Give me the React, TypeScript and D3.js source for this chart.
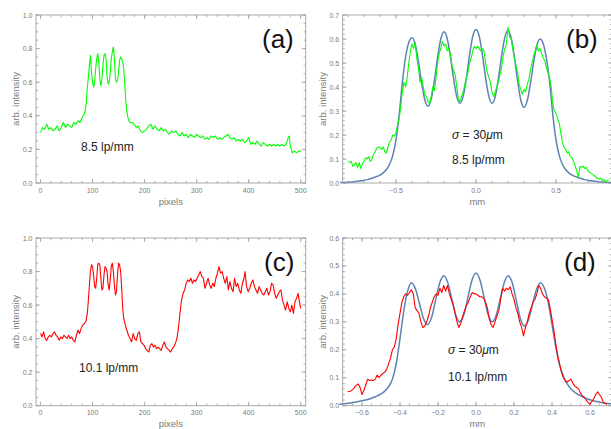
import React from 'react';
import * as d3 from 'd3';

type Pt = [number, number];

// (a) measured profile across the 8.5 lp/mm group  [pixel, intensity]
const profileA: Pt[] = [
  [0, 0.30], [4, 0.33], [8, 0.32], [12, 0.35], [16, 0.32], [20, 0.33], [24, 0.31], [28, 0.32], [32, 0.34], [36, 0.31],
  [40, 0.33], [44, 0.36], [48, 0.33], [52, 0.35], [56, 0.34], [60, 0.33], [64, 0.36], [68, 0.35], [72, 0.37], [76, 0.36],
  [80, 0.39], [84, 0.41], [86, 0.43], [88, 0.48], [90, 0.57], [92, 0.63], [94, 0.70], [96, 0.76], [98, 0.66], [100, 0.60],
  [102, 0.57], [104, 0.60], [106, 0.68], [108, 0.74], [110, 0.77], [112, 0.72], [114, 0.62], [116, 0.58], [118, 0.62], [120, 0.70],
  [122, 0.76], [124, 0.77], [126, 0.74], [128, 0.63], [130, 0.59], [132, 0.60], [134, 0.66], [136, 0.74], [138, 0.78], [140, 0.81],
  [142, 0.74], [144, 0.62], [146, 0.60], [148, 0.61], [150, 0.66], [152, 0.73], [154, 0.75], [156, 0.74], [158, 0.72], [160, 0.68],
  [162, 0.58], [164, 0.48], [166, 0.42], [168, 0.39], [170, 0.37], [172, 0.36], [176, 0.36], [180, 0.35], [184, 0.33], [188, 0.34],
  [192, 0.31], [196, 0.30], [200, 0.31], [204, 0.32], [208, 0.34], [212, 0.35], [216, 0.32], [220, 0.34], [224, 0.32], [228, 0.31],
  [232, 0.33], [236, 0.31], [240, 0.32], [244, 0.30], [248, 0.29], [252, 0.31], [256, 0.30], [260, 0.31], [264, 0.29], [268, 0.28],
  [272, 0.30], [276, 0.28], [280, 0.29], [284, 0.27], [288, 0.29], [292, 0.28], [296, 0.27], [300, 0.29], [304, 0.28], [308, 0.27],
  [312, 0.28], [316, 0.26], [320, 0.27], [324, 0.26], [328, 0.28], [332, 0.27], [336, 0.28], [340, 0.26], [344, 0.27], [348, 0.26],
  [352, 0.27], [356, 0.28], [360, 0.29], [364, 0.27], [368, 0.26], [372, 0.27], [376, 0.25], [380, 0.26], [384, 0.25], [388, 0.26],
  [392, 0.24], [396, 0.25], [400, 0.27], [404, 0.23], [408, 0.24], [412, 0.23], [416, 0.25], [420, 0.23], [424, 0.22], [428, 0.24],
  [432, 0.23], [436, 0.22], [440, 0.23], [444, 0.22], [448, 0.23], [452, 0.22], [456, 0.23], [460, 0.22], [464, 0.23], [468, 0.22],
  [472, 0.23], [476, 0.27], [478, 0.28], [480, 0.22], [484, 0.18], [488, 0.19], [492, 0.18], [496, 0.19], [500, 0.19],
];

// (b) measured profile [mm, intensity]
const measuredB: Pt[] = [
  [-0.80, 0.09], [-0.79, 0.085], [-0.78, 0.09], [-0.77, 0.07], [-0.76, 0.075], [-0.75, 0.085], [-0.74, 0.065], [-0.73, 0.085],
  [-0.72, 0.06], [-0.71, 0.08], [-0.70, 0.09], [-0.69, 0.105], [-0.68, 0.10], [-0.67, 0.11], [-0.66, 0.09], [-0.65, 0.10],
  [-0.64, 0.12], [-0.63, 0.13], [-0.62, 0.145], [-0.61, 0.15], [-0.60, 0.15], [-0.59, 0.14], [-0.58, 0.15], [-0.57, 0.13],
  [-0.56, 0.125], [-0.55, 0.15], [-0.54, 0.17], [-0.53, 0.18], [-0.52, 0.20], [-0.51, 0.195], [-0.50, 0.21], [-0.49, 0.24],
  [-0.48, 0.27], [-0.47, 0.32], [-0.46, 0.38], [-0.45, 0.42], [-0.44, 0.40], [-0.43, 0.44], [-0.42, 0.50], [-0.41, 0.55],
  [-0.40, 0.58], [-0.39, 0.56], [-0.38, 0.585], [-0.37, 0.52], [-0.36, 0.48], [-0.35, 0.42], [-0.34, 0.44], [-0.33, 0.40],
  [-0.32, 0.37], [-0.31, 0.36], [-0.30, 0.34], [-0.29, 0.33], [-0.28, 0.36], [-0.27, 0.40], [-0.26, 0.385], [-0.25, 0.44],
  [-0.24, 0.50], [-0.23, 0.54], [-0.22, 0.56], [-0.21, 0.59], [-0.20, 0.57], [-0.19, 0.58], [-0.18, 0.55], [-0.17, 0.56],
  [-0.16, 0.54], [-0.15, 0.49], [-0.14, 0.47], [-0.13, 0.45], [-0.12, 0.40], [-0.11, 0.35], [-0.10, 0.34], [-0.09, 0.36],
  [-0.08, 0.38], [-0.07, 0.41], [-0.06, 0.44], [-0.05, 0.46], [-0.04, 0.50], [-0.03, 0.52], [-0.02, 0.55], [-0.01, 0.57],
  [0.00, 0.56], [0.01, 0.57], [0.02, 0.56], [0.03, 0.55], [0.04, 0.56], [0.05, 0.55], [0.06, 0.50], [0.07, 0.46],
  [0.08, 0.44], [0.09, 0.42], [0.10, 0.38], [0.11, 0.36], [0.12, 0.38], [0.13, 0.40], [0.14, 0.42], [0.15, 0.45],
  [0.16, 0.48], [0.17, 0.53], [0.18, 0.56], [0.19, 0.58], [0.20, 0.65], [0.21, 0.61], [0.22, 0.60], [0.23, 0.56],
  [0.24, 0.52], [0.25, 0.49], [0.26, 0.46], [0.27, 0.41], [0.28, 0.39], [0.29, 0.37], [0.30, 0.39], [0.31, 0.38],
  [0.32, 0.41], [0.33, 0.43], [0.34, 0.47], [0.35, 0.50], [0.36, 0.53], [0.37, 0.55], [0.38, 0.575], [0.39, 0.55],
  [0.40, 0.56], [0.41, 0.54], [0.42, 0.52], [0.43, 0.51], [0.44, 0.48], [0.45, 0.46], [0.46, 0.44], [0.47, 0.40],
  [0.48, 0.33], [0.49, 0.30], [0.50, 0.29], [0.51, 0.27], [0.52, 0.25], [0.53, 0.21], [0.54, 0.17], [0.55, 0.15],
  [0.56, 0.14], [0.57, 0.125], [0.58, 0.13], [0.59, 0.11], [0.60, 0.105], [0.61, 0.09], [0.62, 0.07], [0.63, 0.05],
  [0.64, 0.025], [0.65, 0.07], [0.66, 0.065], [0.67, 0.07], [0.68, 0.06], [0.69, 0.065], [0.70, 0.05], [0.71, 0.045],
  [0.72, 0.04], [0.73, 0.035], [0.74, 0.03], [0.75, 0.025], [0.76, 0.02], [0.77, 0.015], [0.78, 0.02], [0.79, 0.01],
  [0.80, 0.015], [0.81, 0.005], [0.82, 0.01], [0.83, 0.015],
];

// (b) model, sigma = 30 um
const modelB: Pt[] = [
  [-0.85, 0.002], [-0.80, 0.003], [-0.76, 0.005], [-0.72, 0.009], [-0.68, 0.014], [-0.64, 0.022], [-0.60, 0.033],
  [-0.58, 0.042], [-0.56, 0.056], [-0.54, 0.078], [-0.52, 0.115], [-0.50, 0.18], [-0.48, 0.285], [-0.46, 0.42],
  [-0.44, 0.525], [-0.42, 0.585], [-0.40, 0.605], [-0.38, 0.578], [-0.36, 0.507], [-0.34, 0.418], [-0.32, 0.347],
  [-0.30, 0.320], [-0.28, 0.350], [-0.26, 0.427], [-0.24, 0.523], [-0.22, 0.600], [-0.20, 0.630], [-0.18, 0.602],
  [-0.16, 0.527], [-0.14, 0.435], [-0.12, 0.360], [-0.10, 0.332], [-0.08, 0.362], [-0.06, 0.438], [-0.04, 0.535],
  [-0.02, 0.612], [0.00, 0.640], [0.02, 0.612], [0.04, 0.535], [0.06, 0.438], [0.08, 0.362], [0.10, 0.332],
  [0.12, 0.359], [0.14, 0.435], [0.16, 0.530], [0.18, 0.606], [0.20, 0.635], [0.22, 0.604], [0.24, 0.524],
  [0.26, 0.426], [0.28, 0.346], [0.30, 0.315], [0.32, 0.342], [0.34, 0.413], [0.36, 0.502], [0.38, 0.573],
  [0.40, 0.600], [0.42, 0.58], [0.44, 0.52], [0.46, 0.42], [0.48, 0.285], [0.50, 0.18], [0.52, 0.115],
  [0.54, 0.078], [0.56, 0.056], [0.58, 0.042], [0.60, 0.033], [0.64, 0.022], [0.68, 0.014], [0.72, 0.009],
  [0.76, 0.005], [0.80, 0.003], [0.85, 0.002],
];

// (c) measured profile across the 10.1 lp/mm group  [pixel, intensity]
const profileC: Pt[] = [
  [0, 0.43], [3, 0.41], [6, 0.44], [9, 0.40], [12, 0.39], [15, 0.41], [18, 0.42], [21, 0.41], [24, 0.43], [27, 0.44],
  [30, 0.42], [33, 0.41], [36, 0.39], [39, 0.41], [42, 0.40], [45, 0.42], [48, 0.41], [51, 0.40], [54, 0.42], [57, 0.40],
  [60, 0.41], [63, 0.39], [66, 0.38], [69, 0.42], [72, 0.45], [75, 0.43], [78, 0.46], [81, 0.48], [84, 0.49], [87, 0.50],
  [90, 0.55], [92, 0.63], [94, 0.72], [96, 0.80], [98, 0.84], [100, 0.83], [102, 0.78], [104, 0.71], [106, 0.70], [108, 0.76],
  [110, 0.84], [112, 0.85], [114, 0.84], [116, 0.76], [118, 0.69], [120, 0.70], [122, 0.78], [124, 0.83], [126, 0.82], [128, 0.80],
  [130, 0.72], [132, 0.69], [134, 0.75], [136, 0.83], [138, 0.85], [140, 0.80], [142, 0.72], [144, 0.66], [146, 0.68], [148, 0.78],
  [150, 0.85], [152, 0.84], [154, 0.80], [156, 0.70], [158, 0.58], [160, 0.52], [163, 0.48], [166, 0.45], [169, 0.42], [172, 0.40],
  [175, 0.38], [178, 0.43], [181, 0.40], [184, 0.39], [187, 0.43], [190, 0.44], [193, 0.38], [196, 0.37], [199, 0.36], [202, 0.34],
  [205, 0.33], [208, 0.32], [211, 0.36], [214, 0.37], [217, 0.35], [220, 0.36], [223, 0.34], [226, 0.35], [229, 0.34], [232, 0.33],
  [235, 0.36], [238, 0.38], [241, 0.35], [244, 0.34], [247, 0.33], [250, 0.32], [253, 0.34], [256, 0.35], [259, 0.37], [262, 0.40],
  [265, 0.46], [268, 0.55], [271, 0.63], [274, 0.67], [277, 0.69], [280, 0.73], [283, 0.75], [286, 0.74], [289, 0.76], [292, 0.73],
  [295, 0.75], [298, 0.74], [301, 0.76], [304, 0.78], [307, 0.80], [310, 0.77], [313, 0.76], [316, 0.70], [319, 0.73], [322, 0.76],
  [325, 0.72], [328, 0.70], [331, 0.73], [334, 0.71], [337, 0.76], [340, 0.79], [343, 0.83], [346, 0.79], [349, 0.80], [352, 0.76],
  [355, 0.73], [358, 0.77], [361, 0.69], [364, 0.74], [367, 0.70], [370, 0.68], [373, 0.76], [376, 0.71], [379, 0.73], [382, 0.69],
  [385, 0.67], [388, 0.73], [391, 0.76], [393, 0.80], [396, 0.71], [399, 0.68], [402, 0.70], [405, 0.73], [408, 0.75], [411, 0.71],
  [414, 0.69], [417, 0.67], [420, 0.71], [423, 0.69], [426, 0.67], [429, 0.66], [432, 0.68], [435, 0.70], [438, 0.66], [441, 0.68],
  [444, 0.73], [447, 0.72], [450, 0.67], [453, 0.64], [456, 0.66], [459, 0.68], [462, 0.69], [465, 0.63], [468, 0.60], [471, 0.57],
  [474, 0.62], [477, 0.58], [480, 0.56], [483, 0.60], [486, 0.55], [489, 0.62], [492, 0.64], [495, 0.67], [497, 0.63], [500, 0.58],
];

// (d) measured profile [mm, intensity]
const measuredD: Pt[] = [
  [-0.675, 0.05], [-0.66, 0.052], [-0.645, 0.06], [-0.635, 0.07], [-0.62, 0.078], [-0.61, 0.065], [-0.60, 0.04], [-0.59, 0.055],
  [-0.58, 0.075], [-0.57, 0.095], [-0.56, 0.09], [-0.55, 0.092], [-0.54, 0.09], [-0.53, 0.095], [-0.52, 0.11], [-0.51, 0.10],
  [-0.50, 0.11], [-0.49, 0.115], [-0.48, 0.12], [-0.47, 0.13], [-0.46, 0.15], [-0.45, 0.17], [-0.44, 0.20], [-0.43, 0.21],
  [-0.42, 0.24], [-0.41, 0.29], [-0.40, 0.33], [-0.39, 0.37], [-0.38, 0.39], [-0.37, 0.40], [-0.36, 0.395], [-0.35, 0.405],
  [-0.34, 0.415], [-0.33, 0.40], [-0.32, 0.35], [-0.31, 0.34], [-0.30, 0.33], [-0.29, 0.30], [-0.28, 0.28], [-0.27, 0.285],
  [-0.26, 0.30], [-0.25, 0.32], [-0.24, 0.35], [-0.23, 0.37], [-0.22, 0.39], [-0.21, 0.40], [-0.20, 0.395], [-0.19, 0.42],
  [-0.18, 0.405], [-0.17, 0.43], [-0.16, 0.41], [-0.15, 0.43], [-0.14, 0.40], [-0.13, 0.38], [-0.12, 0.36], [-0.11, 0.33],
  [-0.10, 0.30], [-0.09, 0.28], [-0.08, 0.295], [-0.07, 0.32], [-0.06, 0.34], [-0.05, 0.36], [-0.04, 0.37], [-0.03, 0.39],
  [-0.02, 0.405], [-0.01, 0.40], [0.00, 0.40], [0.01, 0.395], [0.02, 0.39], [0.03, 0.39], [0.04, 0.385], [0.05, 0.37],
  [0.06, 0.35], [0.07, 0.31], [0.08, 0.29], [0.09, 0.28], [0.10, 0.30], [0.11, 0.32], [0.12, 0.34], [0.13, 0.38],
  [0.14, 0.42], [0.15, 0.41], [0.16, 0.42], [0.17, 0.415], [0.18, 0.425], [0.19, 0.40], [0.20, 0.38], [0.21, 0.35],
  [0.22, 0.33], [0.23, 0.30], [0.24, 0.28], [0.25, 0.25], [0.26, 0.28], [0.27, 0.30], [0.28, 0.33], [0.29, 0.35],
  [0.30, 0.37], [0.31, 0.38], [0.32, 0.40], [0.33, 0.43], [0.34, 0.42], [0.35, 0.40], [0.36, 0.39], [0.37, 0.385],
  [0.38, 0.38], [0.39, 0.35], [0.40, 0.31], [0.41, 0.27], [0.42, 0.22], [0.43, 0.18], [0.44, 0.15], [0.45, 0.12],
  [0.46, 0.10], [0.47, 0.09], [0.48, 0.085], [0.49, 0.09], [0.50, 0.095], [0.51, 0.08], [0.52, 0.07], [0.53, 0.065],
  [0.54, 0.06], [0.55, 0.045], [0.56, 0.035], [0.57, 0.03], [0.58, 0.02], [0.59, 0.012], [0.60, 0.005], [0.61, 0.015],
  [0.62, 0.025], [0.63, 0.04], [0.64, 0.05], [0.65, 0.04], [0.66, 0.03], [0.67, 0.012], [0.68, 0.008], [0.69, 0.005],
];

// (d) model, sigma = 30 um
const modelD: Pt[] = [
  [-0.72, 0.005], [-0.64, 0.012], [-0.60, 0.018], [-0.56, 0.024], [-0.53, 0.032], [-0.50, 0.042], [-0.48, 0.052],
  [-0.46, 0.068], [-0.44, 0.095], [-0.42, 0.15], [-0.40, 0.24], [-0.38, 0.34], [-0.36, 0.41], [-0.34, 0.44],
  [-0.31875, 0.418], [-0.2975, 0.365], [-0.27625, 0.312], [-0.255, 0.29], [-0.23375, 0.316], [-0.2125, 0.3775],
  [-0.19125, 0.439], [-0.17, 0.465], [-0.14875, 0.441], [-0.1275, 0.3825], [-0.10625, 0.324], [-0.085, 0.30],
  [-0.06375, 0.326], [-0.0425, 0.3875], [-0.02125, 0.449], [0, 0.475], [0.02125, 0.449], [0.0425, 0.3875],
  [0.06375, 0.326], [0.085, 0.30], [0.10625, 0.324], [0.1275, 0.3825], [0.14875, 0.441], [0.17, 0.465],
  [0.19125, 0.439], [0.2125, 0.375], [0.23375, 0.311], [0.255, 0.285], [0.27625, 0.308], [0.2975, 0.3625],
  [0.31875, 0.417], [0.34, 0.44], [0.36, 0.42], [0.38, 0.37], [0.40, 0.29], [0.42, 0.21], [0.44, 0.145],
  [0.46, 0.105], [0.48, 0.078], [0.50, 0.06], [0.53, 0.043], [0.56, 0.032], [0.60, 0.021], [0.64, 0.014],
  [0.68, 0.009], [0.72, 0.006],
];

const ticksPixels = [0, 100, 200, 300, 400, 500];
const ticksMmB = [-0.5, 0, 0.5];
const ticksMmD = [-0.6, -0.4, -0.2, 0, 0.2, 0.4, 0.6];
const ticksInt10 = [0, 0.2, 0.4, 0.6, 0.8, 1.0];
const ticksInt07 = [0, 0.1, 0.2, 0.3, 0.4, 0.5, 0.6, 0.7];
const ticksInt06 = [0, 0.1, 0.2, 0.3, 0.4, 0.5, 0.6];

const GREEN = '#00ff00';
const RED = '#ff0000';
const BLUE = '#5e81b5';
const FRAME = '#a0a0a0';
const TICKTXT = '#7a7a7a';
const FONT = "'Liberation Sans', Arial, sans-serif";

type Series = { data: Pt[]; color: string; width: number; smooth?: boolean };
type Note = { x: number; y: number; text: React.ReactNode };

type PanelProps = {
  box: [number, number, number, number]; // left, top, right, bottom
  xDomain: [number, number];
  yDomain: [number, number];
  xTicks: number[];
  xMinor: number;
  yTicks: number[];
  yMinor: number;
  xFmt: (v: number) => string;
  xLabel: string;
  series: Series[];
  tag: string;
  tagPos: [number, number];
  notes: Note[];
};

const fmtY = (v: number) => v.toFixed(1);
const fmtMm = (v: number) => (v < 0 ? '\u2212' + Math.abs(v).toFixed(1) : v.toFixed(1));

function Panel(p: PanelProps) {
  const [l, t, r, b] = p.box;
  const x = d3.scaleLinear().domain(p.xDomain).range([l, r]);
  const y = d3.scaleLinear().domain(p.yDomain).range([b, t]);
  const minorX = d3.range(Math.ceil(p.xDomain[0] / p.xMinor), Math.floor(p.xDomain[1] / p.xMinor) + 1).map((i) => i * p.xMinor);
  const minorY = d3.range(Math.ceil(p.yDomain[0] / p.yMinor), Math.floor(p.yDomain[1] / p.yMinor + 1e-6) + 1).map((i) => i * p.yMinor);
  const major = 4;
  const minor = 2.2;
  const cx = (l + r) / 2;
  const cy = (t + b) / 2;

  return (
    <g>
      <g stroke={FRAME} strokeWidth={0.8}>
        {minorX.map((v, i) => (
          <g key={'mx' + i}>
            <line x1={x(v)} x2={x(v)} y1={b} y2={b - minor} />
            <line x1={x(v)} x2={x(v)} y1={t} y2={t + minor} />
          </g>
        ))}
        {minorY.map((v, i) => (
          <g key={'my' + i}>
            <line x1={l} x2={l + minor} y1={y(v)} y2={y(v)} />
            <line x1={r} x2={r - minor} y1={y(v)} y2={y(v)} />
          </g>
        ))}
        {p.xTicks.map((v, i) => (
          <g key={'Mx' + i}>
            <line x1={x(v)} x2={x(v)} y1={b} y2={b - major} />
            <line x1={x(v)} x2={x(v)} y1={t} y2={t + major} />
          </g>
        ))}
        {p.yTicks.map((v, i) => (
          <g key={'My' + i}>
            <line x1={l} x2={l + major} y1={y(v)} y2={y(v)} />
            <line x1={r} x2={r - major} y1={y(v)} y2={y(v)} />
          </g>
        ))}
      </g>
      <g fontFamily={FONT} fontSize={7} fill={TICKTXT}>
        {p.xTicks.map((v, i) => (
          <text key={'tx' + i} x={x(v)} y={b + 9.5} textAnchor="middle">{p.xFmt(v)}</text>
        ))}
        {p.yTicks.map((v, i) => (
          <text key={'ty' + i} x={l - 3.5} y={y(v) + 2.5} textAnchor="end">{fmtY(v)}</text>
        ))}
      </g>
      <g fontFamily={FONT} fontSize={9.5} fill={TICKTXT}>
        <text x={cx} y={b + 21.5} textAnchor="middle">{p.xLabel}</text>
        <text transform={`translate(${l - 17},${cy}) rotate(-90)`} textAnchor="middle">arb. intensity</text>
      </g>
      {p.series.map((s, i) => {
        const line = d3
          .line<Pt>()
          .x((d) => x(d[0]))
          .y((d) => y(d[1]))
          .curve(s.smooth ? d3.curveMonotoneX : d3.curveLinear);
        return (
          <path key={'s' + i} d={line(s.data) || ''} fill="none" stroke={s.color} strokeWidth={s.width} strokeLinejoin="round" />
        );
      })}
      <rect x={l} y={t} width={r - l} height={b - t} fill="none" stroke={FRAME} strokeWidth={0.9} />
      <text x={p.tagPos[0]} y={p.tagPos[1]} fontFamily={FONT} fontSize={26} fill="#111">{p.tag}</text>
      <g fontFamily={FONT} fontSize={12} fill="#222">
        {p.notes.map((n, i) => (
          <text key={'n' + i} x={n.x} y={n.y}>{n.text}</text>
        ))}
      </g>
    </g>
  );
}

const sigma = (
  <>
    <tspan fontStyle="italic">σ</tspan> = 30<tspan fontStyle="italic">μ</tspan>m
  </>
);

export default function App() {
  const xA = d3.scaleLinear().domain([0, 500]).range([40.5, 300.7]);
  const pixDomain: [number, number] = [xA.invert(36), xA.invert(305.7)];
  const mmB = d3.scaleLinear().domain([-0.5, 0.5]).range([396, 556]);
  const mmD = d3.scaleLinear().domain([0, 0.6]).range([476, 590]);

  return (
    <svg width={611} height={429} style={{ position: 'absolute', left: 0, top: 0, background: '#fff' }}>
      <Panel
        box={[36, 15, 305.7, 183]}
        xDomain={pixDomain}
        yDomain={[0, 1]}
        xTicks={ticksPixels}
        xMinor={20}
        yTicks={ticksInt10}
        yMinor={0.05}
        xFmt={(v) => String(v)}
        xLabel="pixels"
        series={[{ data: profileA, color: GREEN, width: 1.1 }]}
        tag="(a)"
        tagPos={[262, 48]}
        notes={[{ x: 81, y: 151, text: '8.5 lp/mm' }]}
      />
      <Panel
        box={[342.7, 15, 612, 183]}
        xDomain={[mmB.invert(342.7), mmB.invert(612)]}
        yDomain={[0, 0.7]}
        xTicks={ticksMmB}
        xMinor={0.1}
        yTicks={ticksInt07}
        yMinor={0.02}
        xFmt={fmtMm}
        xLabel="mm"
        series={[
          { data: modelB, color: BLUE, width: 1.5, smooth: true },
          { data: measuredB, color: GREEN, width: 1.1 },
        ]}
        tag="(b)"
        tagPos={[566, 48]}
        notes={[
          { x: 452, y: 139, text: sigma },
          { x: 452, y: 164, text: '8.5 lp/mm' },
        ]}
      />
      <Panel
        box={[36, 238, 305.7, 405.7]}
        xDomain={pixDomain}
        yDomain={[0, 1]}
        xTicks={ticksPixels}
        xMinor={20}
        yTicks={ticksInt10}
        yMinor={0.05}
        xFmt={(v) => String(v)}
        xLabel="pixels"
        series={[{ data: profileC, color: RED, width: 1.1 }]}
        tag="(c)"
        tagPos={[264, 271]}
        notes={[{ x: 79, y: 372, text: '10.1 lp/mm' }]}
      />
      <Panel
        box={[342.7, 238, 612, 405.7]}
        xDomain={[mmD.invert(342.7), mmD.invert(612)]}
        yDomain={[0, 0.6]}
        xTicks={ticksMmD}
        xMinor={0.05}
        yTicks={ticksInt06}
        yMinor={0.02}
        xFmt={fmtMm}
        xLabel="mm"
        series={[
          { data: modelD, color: BLUE, width: 1.5, smooth: true },
          { data: measuredD, color: RED, width: 1.1 },
        ]}
        tag="(d)"
        tagPos={[564, 271]}
        notes={[
          { x: 448, y: 354, text: sigma },
          { x: 448, y: 381, text: '10.1 lp/mm' },
        ]}
      />
    </svg>
  );
}
